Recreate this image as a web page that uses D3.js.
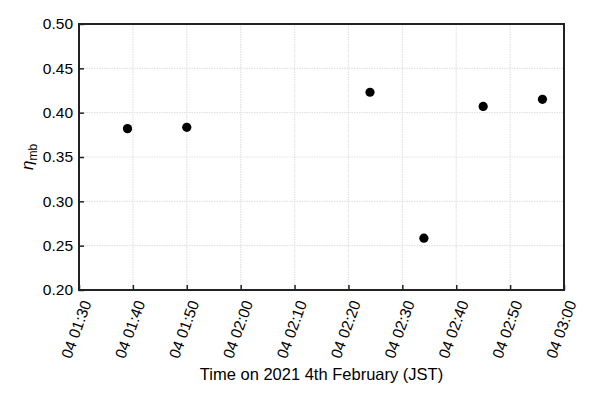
<!DOCTYPE html>
<html>
<head>
<meta charset="utf-8">
<script src="https://cdn.jsdelivr.net/npm/d3@7"></script>
<style>
  body { margin: 0; background: #fff; }
  text { font-family: "Liberation Sans", Arial, sans-serif; fill: #000; }
</style>
</head>
<body>
<script>
var times = ["2021-02-04T01:39", "2021-02-04T01:50", "2021-02-04T02:24",
             "2021-02-04T02:34", "2021-02-04T02:45", "2021-02-04T02:56"];
var etaValues = [0.382, 0.3835, 0.423, 0.2585, 0.407, 0.415];
var yTicks = [0.20, 0.25, 0.30, 0.35, 0.40, 0.45, 0.50];

var parseTime = d3.timeParse("%Y-%m-%dT%H:%M");
var data = times.map(function (t, i) { return { t: parseTime(t), v: etaValues[i] }; });

var margin = { top: 24, right: 36, bottom: 110, left: 79 },
    width = 600 - margin.left - margin.right,
    height = 400 - margin.top - margin.bottom;

var svg = d3.select("body").append("svg")
    .attr("width", 600)
    .attr("height", 400);

var g = svg.append("g")
    .attr("transform", "translate(" + margin.left + "," + margin.top + ")");

var xScale = d3.scaleTime()
    .domain([parseTime("2021-02-04T01:30"), parseTime("2021-02-04T03:00")])
    .range([0, width]);
var yScale = d3.scaleLinear().domain([0.20, 0.50]).range([height, 0]);

var xTicks = d3.timeMinute.every(10).range(xScale.domain()[0], d3.timeMinute.offset(xScale.domain()[1], 1));

// grid
g.append("g").selectAll("line").data(xTicks).enter().append("line")
    .attr("x1", function (d) { return xScale(d); })
    .attr("x2", function (d) { return xScale(d); })
    .attr("y1", 0).attr("y2", height)
    .attr("stroke", "#e2e2e2").attr("stroke-width", 1.2)
    .attr("stroke-dasharray", "1.5,1");
g.append("g").selectAll("line").data(yTicks).enter().append("line")
    .attr("y1", function (d) { return yScale(d); })
    .attr("y2", function (d) { return yScale(d); })
    .attr("x1", 0).attr("x2", width)
    .attr("stroke", "#e2e2e2").attr("stroke-width", 1.2)
    .attr("stroke-dasharray", "1.5,1");

// axes
var xAxis = d3.axisBottom(xScale).tickValues(xTicks)
    .tickSize(-5).tickPadding(8)
    .tickFormat(d3.timeFormat("%d %H:%M"));
var yAxis = d3.axisLeft(yScale).tickValues(yTicks)
    .tickSize(-5).tickPadding(6)
    .tickFormat(d3.format(".2f"));

var gx = g.append("g")
    .attr("transform", "translate(0," + height + ")")
    .call(xAxis);
gx.selectAll("text")
    .style("font-size", "15.5px")
    .attr("text-anchor", "end")
    .attr("dy", "0.35em")
    .attr("transform", "translate(7,11) rotate(-70)")
    .attr("x", 0).attr("y", 0);

var gy = g.append("g").call(yAxis);
gy.selectAll("text").style("font-size", "15.5px");

[gx, gy].forEach(function (a) {
    a.select(".domain").remove();
    a.selectAll(".tick line").attr("stroke", "#222").attr("stroke-width", 1.5);
});

// frame
g.append("rect")
    .attr("width", width).attr("height", height)
    .attr("fill", "none").attr("stroke", "#222").attr("stroke-width", 2);

// points
g.selectAll("circle").data(data).enter().append("circle")
    .attr("cx", function (d) { return xScale(d.t); })
    .attr("cy", function (d) { return yScale(d.v); })
    .attr("r", 4.6)
    .attr("fill", "#000");

// labels
svg.append("text")
    .attr("x", margin.left + width / 2)
    .attr("y", 380)
    .attr("text-anchor", "middle")
    .style("font-size", "16.5px")
    .text("Time on 2021 4th February (JST)");

var yl = svg.append("text")
    .attr("transform", "translate(33," + (margin.top + height / 2) + ") rotate(-90)")
    .attr("text-anchor", "middle")
    .style("font-size", "17px");
yl.append("tspan").style("font-style", "italic").text("η");
yl.append("tspan").attr("dy", "4").style("font-size", "12px").text("mb");
</script>
</body>
</html>
